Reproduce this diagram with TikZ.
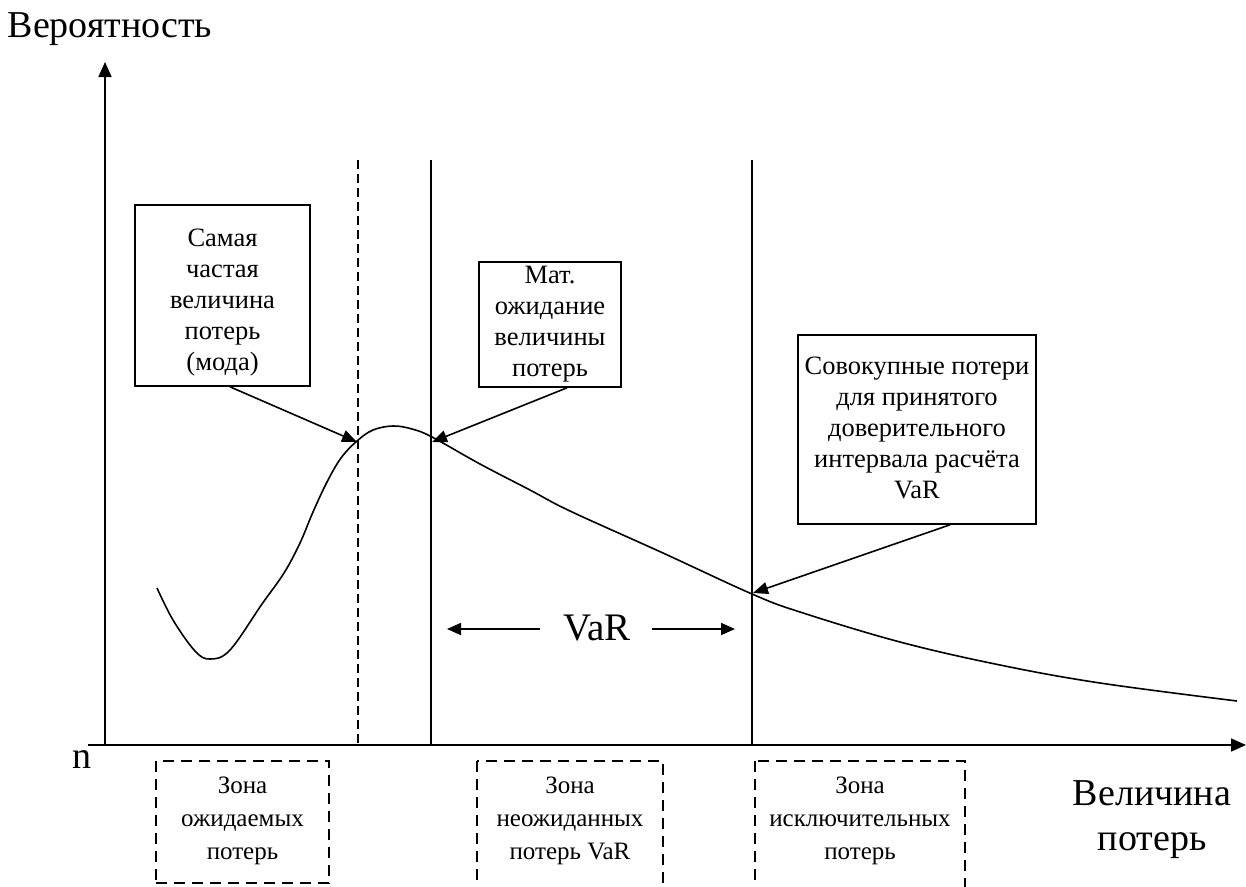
\documentclass[tikz,border=0pt]{standalone}
\usepackage{fontspec}
\setmainfont{Liberation Serif}
\usetikzlibrary{arrows.meta}
\begin{document}
\begin{tikzpicture}[x=1pt,y=-1pt,
  axis/.style={line width=1.7pt,-{Triangle[length=15pt,width=13pt]}},
  vline/.style={line width=1.6pt},
  dline/.style={line width=1.4pt,dash pattern=on 9pt off 5pt},
  callout/.style={draw,line width=1.6pt,inner sep=0pt},
  callouttext/.style={inner sep=0pt,align=center,font=\fontsize{26.5}{31}\selectfont},
  pointer/.style={line width=1.6pt,-{Triangle[length=15pt,width=12pt]}},
  zonebox/.style={draw,line width=1.6pt,dash pattern=on 11pt off 7pt,inner sep=0pt},
  zonetext/.style={align=center,inner sep=0pt,font=\fontsize{25}{33}\selectfont},
  bigtext/.style={inner sep=0pt,font=\fontsize{38}{45}\selectfont,align=center}]
\useasboundingbox (0,0) rectangle (1246,886);
\clip (0,0) rectangle (1246,886);
% axes
\coordinate (o) at (105,745);
\coordinate (yend) at (105,62);
\coordinate (xstart) at (88,745);
\coordinate (xend) at (1246,745);
\draw[axis] (o) -- (yend);
\draw[axis] (xstart) -- (xend);
% vertical lines
\coordinate (d1) at (358,160); \coordinate (d2) at (358,745);
\coordinate (s1a) at (431,160); \coordinate (s1b) at (431,745);
\coordinate (s2a) at (752,160); \coordinate (s2b) at (752,745);
\draw[dline] (d1) -- (d2);
\draw[vline] (s1a) -- (s1b);
\draw[vline] (s2a) -- (s2b);
% curve
\draw[line width=1.6pt] plot[smooth,tension=0.6] coordinates {
 (157,588) (173,620) (195,651) (210,659) (230,650) (262,604) (284,573)
 (300,543) (313,512) (327,482) (341,458) (357,441) (373,430) (393,426)
 (412,429) (432,437) (480,464) (530,490) (570,511) (663,553) (752,594)
 (800,612) (900,642) (1000,665) (1100,683) (1237,701)};
% callouts
\node[callout,minimum width=175pt,minimum height=181pt] (b1) at (222.5,295.5) {};
\node[callouttext] (t1) at ([yshift=-7pt]b1.center)
  {Самая\\частая\\величина\\потерь\\(мода)};
\node[callout,minimum width=142pt,minimum height=125pt] (b2) at (550,324.5) {};
\node[callouttext] (t2) at (b2.center)
  {Мат.\\ожидание\\величины\\потерь};
\node[callout,minimum width=238pt,minimum height=189pt] (b3) at (917,429.5) {};
\node[callouttext] (t3) at ([yshift=2pt]b3.center)
  {Совокупные потери\\для принятого\\доверительного\\интервала расчёта\\VaR};
\coordinate (p1) at (357,442);
\coordinate (p2) at (432,442);
\coordinate (p3) at (753,593);
\draw[pointer] ([xshift=7.5pt]b1.south) -- (p1);
\draw[pointer] ([xshift=17pt]b2.south) -- (p2);
\draw[pointer] ([xshift=33pt]b3.south) -- (p3);
% VaR
\node[bigtext,font=\fontsize{39}{45}\selectfont] (var) at (597,628) {VaR};
\coordinate (vl1) at (540,629); \coordinate (vl2) at (447,629);
\coordinate (vr1) at (652,629); \coordinate (vr2) at (735,629);
\draw[line width=1.6pt,-{Triangle[length=14pt,width=12pt]}] (vl1) -- (vl2);
\draw[line width=1.6pt,-{Triangle[length=14pt,width=12pt]}] (vr1) -- (vr2);
% labels
\node[bigtext] (ylab) at (110,29) {Вероятность};
\node[bigtext] (nlab) at (82,760) {n};
\node[bigtext] (xlab) at (1152,820) {Величина\\потерь};
% zones
\node[zonebox,minimum width=173pt,minimum height=122pt] (zb1) at (242.5,822) {};
\draw[zonebox] (477,761) rectangle (663,900);
\draw[zonebox] (755,761) rectangle (965,900);
\coordinate (zb2) at (570,821);
\coordinate (zb3) at (860,821);
\node[zonetext] (z1) at (242.5,821) {Зона\\ожидаемых\\потерь};
\node[zonetext] (z2) at (zb2) {Зона\\неожиданных\\потерь VaR};
\node[zonetext] (z3) at (zb3) {Зона\\исключительных\\потерь};
\end{tikzpicture}
\end{document}
